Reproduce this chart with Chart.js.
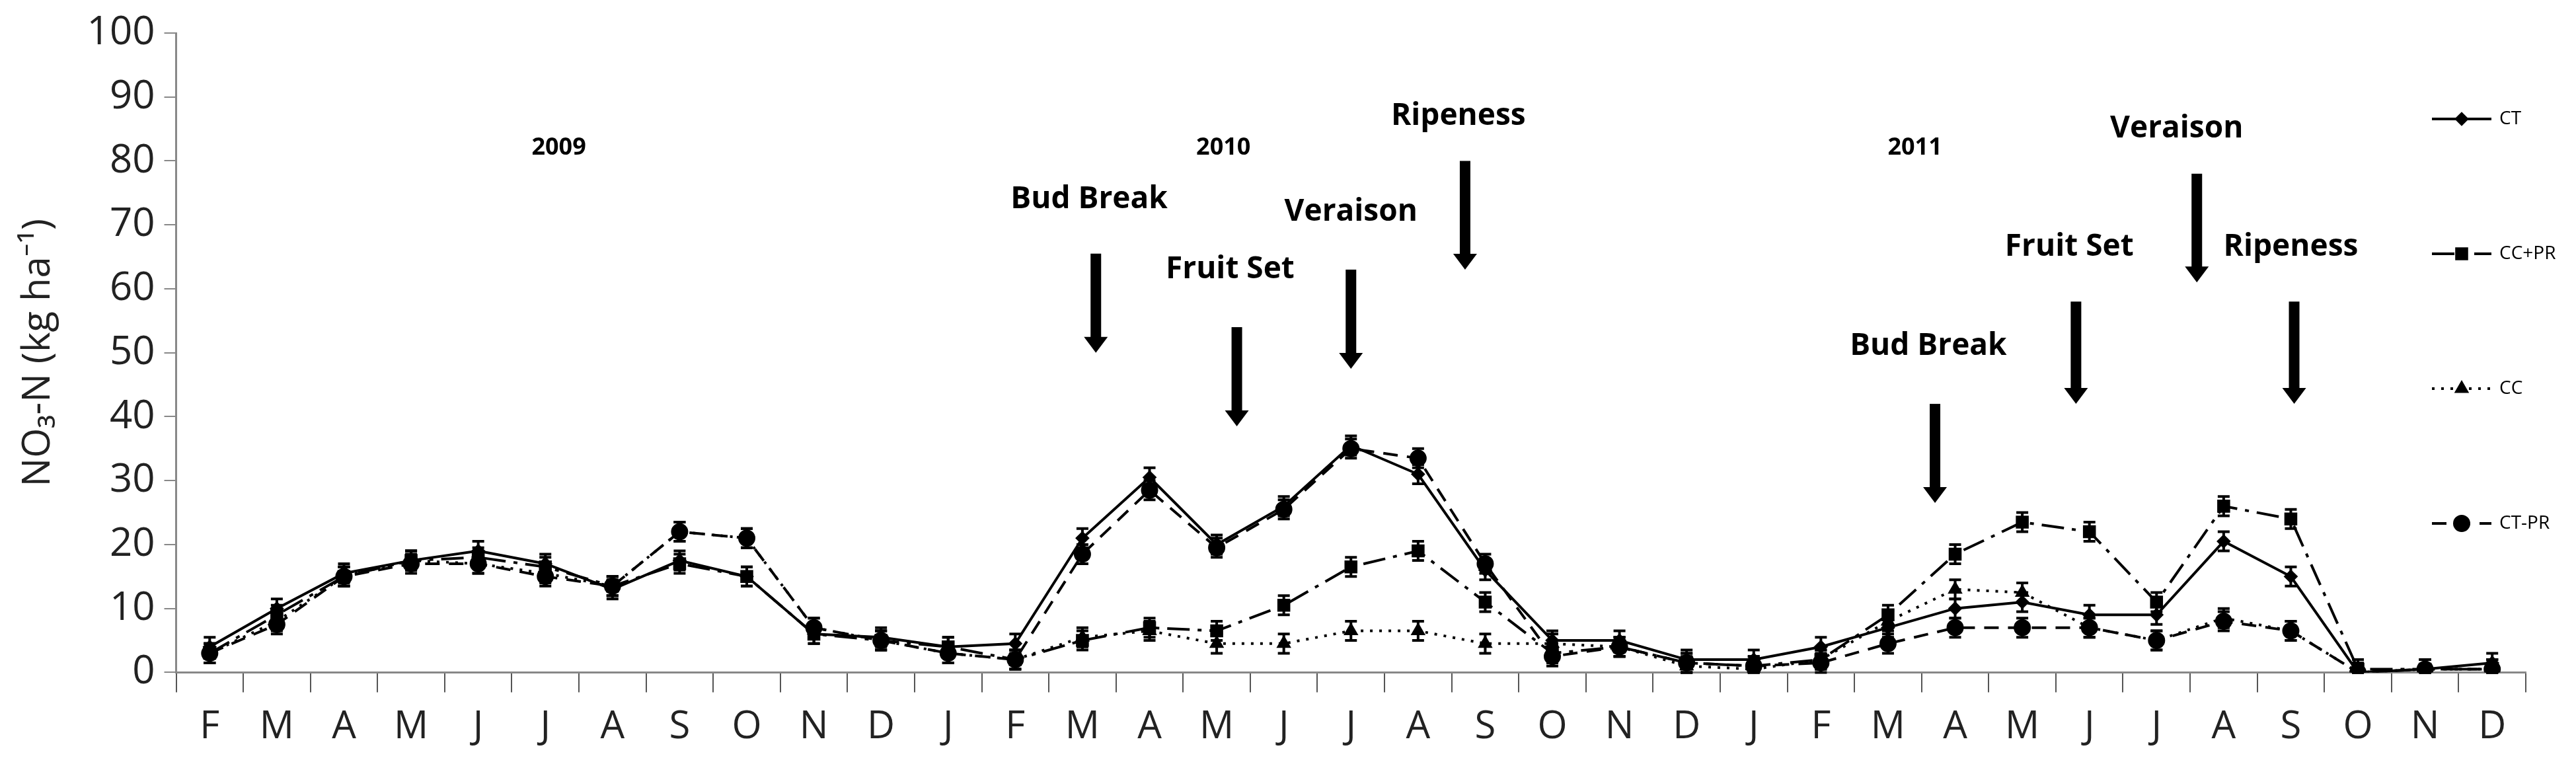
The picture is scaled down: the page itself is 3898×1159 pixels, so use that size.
<!DOCTYPE html>
<html>
<head>
<meta charset="utf-8">
<script src="https://cdn.jsdelivr.net/npm/chart.js@4.4.1/dist/chart.umd.min.js"></script>
<style>
  html, body { margin: 0; padding: 0; background: #fff; }
  #wrap { width: 3898px; height: 1159px; }
</style>
</head>
<body>
<div id="wrap"><canvas id="nitrateChart"></canvas></div>
<script>
const months = [
  "F", "M", "A", "M", "J", "J", "A", "S", "O", "N", "D",
  "J", "F", "M", "A", "M", "J", "J", "A", "S", "O", "N", "D",
  "J", "F", "M", "A", "M", "J", "J", "A", "S", "O", "N", "D",
];

const ct = [4, 10, 15.5, 17.5, 19, 17, 13, 17.5, 15, 6, 5.5,
  4, 4.5, 21, 30.5, 20, 26, 35.5, 31, 16, 5, 5, 2,
  2, 4, 7, 10, 11, 9, 9, 20.5, 15, 0, 0.5, 1.5];
const ccPr = [3, 9, 15, 17.5, 18, 16.5, 13.5, 17, 15, 6, 5,
  4, 2, 5, 7, 6.5, 10.5, 16.5, 19, 11, 3, 4, 1.5,
  1, 2, 9, 18.5, 23.5, 22, 11, 26, 24, 0.5, 0.5, 0.5];
const cc = [3, 8, 15, 17.5, 17, 15.5, 13.5, 22, 21, 7, 5,
  3, 2, 5.5, 6.5, 4.5, 4.5, 6.5, 6.5, 4.5, 4.5, 4, 1,
  0.5, 2, 8, 13, 12.5, 7, 5, 8.5, 6.5, 0, 0.5, 0.5];
const ctPr = [3, 7.5, 15, 17, 17, 15, 13.5, 22, 21, 7, 5,
  3, 2, 18.5, 28.5, 19.5, 25.5, 35, 33.5, 17, 2.5, 4, 1.5,
  1, 1.5, 4.5, 7, 7, 7, 5, 8, 6.5, 0, 0.5, 0.5];
const errorBar = 1.5;

const yearLabels = ["2009", "2010", "2011"];
const yearIndex = [5.2, 15.1, 25.4];

const stageLabels = ["Bud Break", "Fruit Set", "Veraison", "Ripeness",
  "Bud Break", "Fruit Set", "Veraison", "Ripeness"];
const stageTextIndex = [13.1, 15.2, 17.0, 18.6, 25.6, 27.7, 29.3, 31.0];
const stageTextValue = [74, 63, 72, 87, 51, 66.5, 85, 66.5];
const arrowIndex = [13.2, 15.3, 17.0, 18.7, 25.7, 27.8, 29.6, 31.05];
const arrowTop = [65.5, 54, 63, 80, 42, 58, 78, 58];
const arrowBottom = [50, 38.5, 47.5, 63, 26.5, 42, 61, 42];

const FONT = "'Open Sans', 'Liberation Sans', sans-serif";

const errorBarPlugin = {
  id: "errorBars",
  afterDatasetsDraw(chart) {
    const ctx = chart.ctx;
    const y = chart.scales.y;
    ctx.save();
    ctx.strokeStyle = "#000";
    ctx.lineWidth = 4;
    ctx.setLineDash([]);
    chart.data.datasets.forEach((ds, i) => {
      chart.getDatasetMeta(i).data.forEach((pt, j) => {
        const v = ds.data[j];
        const top = y.getPixelForValue(v + errorBar);
        const bot = y.getPixelForValue(Math.max(v - errorBar, 0));
        ctx.beginPath();
        ctx.moveTo(pt.x, top); ctx.lineTo(pt.x, bot);
        ctx.moveTo(pt.x - 9, top); ctx.lineTo(pt.x + 9, top);
        ctx.moveTo(pt.x - 9, bot); ctx.lineTo(pt.x + 9, bot);
        ctx.stroke();
      });
    });
    ctx.restore();
  },
};

const annotationPlugin = {
  id: "stages",
  afterDraw(chart) {
    const ctx = chart.ctx;
    const x = chart.scales.x;
    const y = chart.scales.y;
    const px = (i) => x.getPixelForValue(0) + i * (x.getPixelForValue(1) - x.getPixelForValue(0));
    ctx.save();
    ctx.fillStyle = "#000";
    ctx.textAlign = "center";
    ctx.textBaseline = "middle";
    ctx.font = "bold 36px " + FONT;
    yearLabels.forEach((t, i) => ctx.fillText(t, px(yearIndex[i]), y.getPixelForValue(82)));
    ctx.font = "bold 46px " + FONT;
    stageLabels.forEach((t, i) => ctx.fillText(t, px(stageTextIndex[i]), y.getPixelForValue(stageTextValue[i])));
    arrowIndex.forEach((a, i) => {
      const ax = px(a);
      const t = y.getPixelForValue(arrowTop[i]);
      const b = y.getPixelForValue(arrowBottom[i]);
      ctx.fillRect(ax - 8, t, 16, b - t - 22);
      ctx.beginPath();
      ctx.moveTo(ax - 18, b - 24); ctx.lineTo(ax + 18, b - 24); ctx.lineTo(ax, b);
      ctx.closePath();
      ctx.fill();
    });

    // legend
    const lx = 3680, lw = 90;
    ctx.font = "28px " + FONT;
    ctx.textAlign = "left";
    chart.data.datasets.forEach((ds, i) => {
      const ly = 180 + i * 204;
      ctx.strokeStyle = "#000";
      ctx.lineWidth = 4;
      ctx.setLineDash(ds.borderDash || []);
      ctx.beginPath(); ctx.moveTo(lx, ly); ctx.lineTo(lx + lw, ly); ctx.stroke();
      ctx.setLineDash([]);
      Chart.helpers.drawPoint(ctx, {
        pointStyle: ds.pointStyle, radius: ds.pointRadius, rotation: 0, borderWidth: 1,
      }, lx + lw / 2, ly);
      ctx.fillText(ds.label, lx + lw + 12, ly);
    });
    ctx.restore();
  },
};

const ctx = document.getElementById("nitrateChart").getContext("2d");
new Chart(ctx, {
  type: "line",
  data: {
    labels: months,
    datasets: [
      { label: "CT", data: ct, borderDash: [], pointStyle: "rectRot", pointRadius: 8 },
      { label: "CC+PR", data: ccPr, borderDash: [34, 12, 6, 12], pointStyle: "rect", pointRadius: 11 },
      { label: "CC", data: cc, borderDash: [4, 10], pointStyle: "triangle", pointRadius: 9 },
      { label: "CT-PR", data: ctPr, borderDash: [22, 14], pointStyle: "circle", pointRadius: 11 },
    ].map((d) => ({
      ...d,
      borderColor: "#000",
      backgroundColor: "#000",
      pointBackgroundColor: "#000",
      pointBorderColor: "#000",
      borderWidth: 4,
      tension: 0,
    })),
  },
  options: {
    responsive: true,
    maintainAspectRatio: false,
    animation: false,
    layout: { padding: { left: 20, right: 76, top: 44, bottom: 6 } },
    plugins: { legend: { display: false }, tooltip: { enabled: false } },
    scales: {
      x: {
        offset: true,
        grid: { offset: true, drawOnChartArea: false, color: "#555", lineWidth: 2, tickLength: 30 },
        border: { color: "#888", width: 3 },
        ticks: { color: "#222", font: { family: FONT, size: 58 }, padding: 18 },
      },
      y: {
        min: 0,
        max: 100,
        ticks: { stepSize: 10, color: "#222", font: { family: FONT, size: 60 }, padding: 14 },
        grid: { drawOnChartArea: false, color: "#888", lineWidth: 2, tickLength: 18 },
        border: { color: "#888", width: 3 },
        title: {
          display: true,
          text: "NO\u2083-N (kg ha\u207B\u00B9)",
          color: "#222",
          font: { family: FONT, size: 58 },
          padding: { bottom: 24 },
        },
      },
    },
  },
  plugins: [errorBarPlugin, annotationPlugin],
});
</script>
</body>
</html>
